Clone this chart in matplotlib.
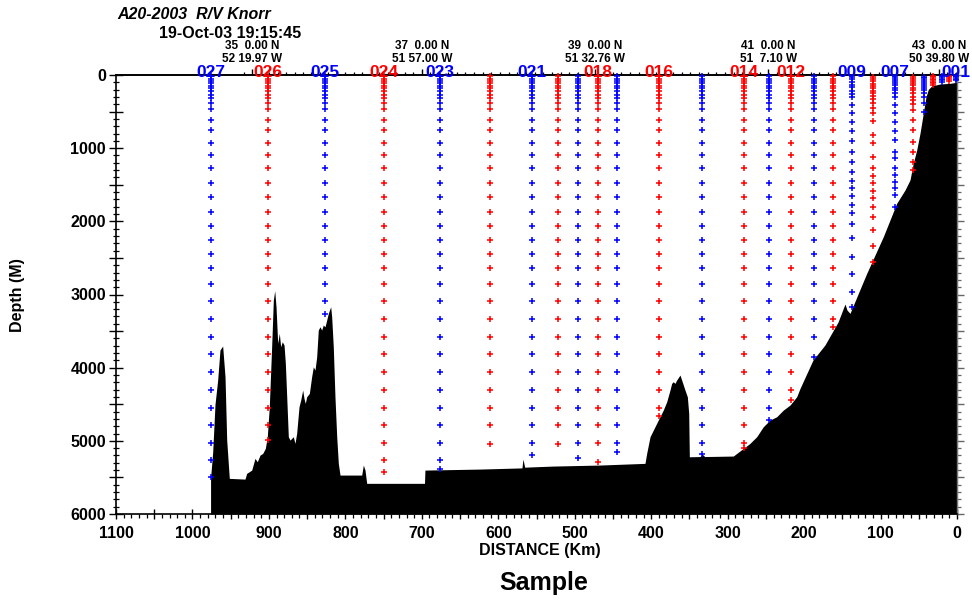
import numpy as np
import matplotlib
matplotlib.use("Agg")
import matplotlib.pyplot as plt
from matplotlib.ticker import FixedLocator, MultipleLocator, FuncFormatter
from matplotlib.transforms import offset_copy

plt.rcParams['font.family'] = ['Liberation Sans', 'DejaVu Sans']
plt.rcParams['font.weight'] = 'bold'

# ---- bottom profile along the section (distance km, depth m) ----
bottom_km = [976.3, 973.5, 970.5, 967.0, 964.0, 960.5, 957.4, 955.2, 951.8, 931.3,
             929.1, 922.5, 918.2, 915.2, 911.6, 908.1, 904.7, 902.1, 899.5, 896.4,
             894.2, 892.4, 890.7, 888.5, 886.4, 884.6, 882.5, 880.2, 878.5, 876.7,
             874.6, 872.4, 868.1, 865.9, 863.7, 860.6, 858.4, 855.8, 854.1, 852.4,
             850.6, 847.1, 844.1, 841.9, 839.7, 837.5, 835.4, 833.2, 831.0, 828.9,
             826.6, 824.4, 822.3, 819.2, 817.9, 815.8, 813.6, 811.3, 809.2, 807.0,
             778.6, 776.5, 774.3, 772.1, 696.5, 695.9, 623.9, 569.0, 567.7, 565.5,
             528.4, 467.0, 408.1, 405.9, 401.5, 397.2, 390.7, 384.2, 379.7, 375.4,
             373.2, 371.1, 368.9, 366.7, 362.3, 360.1, 355.8, 352.7, 350.9, 350.1,
             336.0, 333.5, 330.0, 292.6, 279.5, 270.8, 262.0, 253.4, 244.6, 235.8,
             227.2, 218.4, 209.7, 205.3, 188.4, 172.7, 155.6, 146.5, 143.9, 140.0,
             118.1, 96.4, 78.9, 68.0, 61.5, 57.2, 52.7, 48.4, 44.1, 40.5,
             37.5, 33.1, 22.2, 9.2, 0.4, 0.0]
bottom_depth = [5510, 5150, 4500, 4169, 3759, 3704, 4124, 4989, 5513, 5523,
                5445, 5400, 5240, 5286, 5195, 5172, 5104, 4944, 4534, 3714,
                3076, 2948, 3167, 3668, 3531, 3714, 3646, 3691, 3941, 4398,
                4944, 4990, 4944, 5035, 4898, 4534, 4443, 4306, 4420, 4488,
                4398, 4352, 4124, 3988, 4033, 3851, 3486, 3441, 3486, 3418,
                3441, 3349, 3258, 3167, 3304, 3714, 4398, 4944, 5308, 5468,
                5468, 5331, 5400, 5581, 5581, 5400, 5386, 5370, 5249, 5360,
                5345, 5331, 5308, 5172, 4944, 4853, 4716, 4580, 4466, 4306,
                4215, 4192, 4215, 4170, 4101, 4170, 4306, 4398, 4625, 5218,
                5215, 5180, 5215, 5208, 5104, 5035, 4944, 4808, 4716, 4671,
                4580, 4511, 4398, 4283, 3896, 3690, 3376, 3130, 3212, 3258,
                2711, 2210, 1754, 1572, 1435, 1207, 1025, 797, 524, 296,
                196, 150, 123, 114, 100, 100]

# ---- stations ----
station_ids = ['001', '002', '003', '004', '005', '006', '007', '008', '009',
               '010', '011', '012', '013', '014', '015', '016', '017', '018',
               '019', '020', '021', '022', '023', '024', '025', '026', '027']
station_km = [1, 10, 20, 31, 43, 58, 81, 110, 137, 162, 187, 217, 246, 279,
              334, 390, 445, 470, 496, 522, 556, 611, 676, 750, 827, 901, 976]
labelled_ids = ['027', '026', '025', '024', '023', '021', '018', '016',
                '014', '012', '009', '007', '001']

# usual bottle depths of a deep cast (m)
deep_cast = [10, 50, 80, 110, 145, 180, 225, 270, 320, 380, 470, 610, 750,
             925, 1090, 1270, 1470, 1665, 1870, 2060, 2255, 2445, 2640, 2850,
             3095, 3330, 3575, 3820, 4065, 4300, 4545, 4790, 5035, 5265, 5500]
# deepest bottle of each deep cast
deepest_bottle = {'010': 3450, '011': 3850, '012': 4443, '013': 4720,
                  '014': 5104, '015': 5181, '016': 4662, '017': 5150,
                  '018': 5290, '019': 5230, '020': 5050, '021': 5200,
                  '022': 5040, '023': 5380, '024': 5420, '025': 3270,
                  '026': 4990, '027': 5500}
# shelf and slope casts
shelf_casts = {
    '001': [10, 30, 50, 68],
    '002': [10, 30, 50, 78],
    '003': [10, 30, 50, 70, 90],
    '004': [10, 30, 50, 70, 90, 110, 135],
    '005': [23, 45, 70, 95, 120, 150, 180, 210, 250, 300, 387, 506],
    '006': [23, 50, 80, 110, 140, 175, 210, 250, 300, 340, 390, 478, 615,
            752, 911, 1048, 1185, 1299],
    '007': [23, 50, 80, 110, 140, 175, 210, 250, 300, 410, 515, 638, 761,
            888, 1048, 1130, 1275, 1367, 1458, 1549, 1640, 1800],
    '008': [23, 55, 87, 118, 150, 182, 214, 250, 287, 332, 387, 455, 524,
            624, 820, 925, 1116, 1267, 1381, 1481, 1581, 1677, 1800, 1945,
            2119, 2333, 2560],
    '009': [23, 59, 96, 132, 168, 214, 260, 305, 410, 515, 638, 761, 902,
            1048, 1185, 1322, 1445, 1549, 1654, 1777, 1891, 2037, 2232, 2484,
            2725, 2971, 3167],
}

# latitude marks along the track
lat_deg = [35, 37, 39, 41, 43]
lat_km = [922, 700, 473, 247, 24]
lat_line1 = ['35  0.00 N', '37  0.00 N', '39  0.00 N', '41  0.00 N', '43  0.00 N']
lat_line2 = ['52 19.97 W', '51 57.00 W', '51 32.76 W', '51  7.10 W', '50 39.80 W']

BLUE = '#0000ff'
RED = '#ff0000'

fig = plt.figure(figsize=(9.72, 6.01), dpi=100)
L, R, T, B = 116, 957, 75, 514
ax = fig.add_axes([L / 972, 1 - B / 601, (R - L) / 972, (B - T) / 601])
ax.set_xlim(1100, 0)
ax.set_ylim(6000, 0)

ax.fill_between(bottom_km, bottom_depth, 6000, color='black', lw=0, zorder=2)

for sid, km in zip(station_ids, station_km):
    if sid in shelf_casts:
        depths = shelf_casts[sid]
    else:
        dmax = deepest_bottle[sid]
        depths = [d for d in deep_cast if d < dmax - 60] + [dmax]
    col = BLUE if int(sid) % 2 else RED
    ax.plot([km] * len(depths), depths, '+', color=col, ms=4.2, mew=1.1,
            zorder=3, clip_on=False)

lab_tr = offset_copy(ax.transData, fig=fig, x=0, y=-2, units='dots')
for sid, km in zip(station_ids, station_km):
    if sid in labelled_ids:
        col = BLUE if int(sid) % 2 else RED
        ax.text(km, 0, sid, transform=lab_tr, ha='center', va='baseline',
                color=col, fontsize=12.5, fontweight='bold', zorder=5)

tr1 = offset_copy(ax.transData, fig=fig, x=0, y=26, units='dots')
tr2 = offset_copy(ax.transData, fig=fig, x=0, y=13, units='dots')
for km, s1, s2 in zip(lat_km, lat_line1, lat_line2):
    ax.text(km, 0, s1, transform=tr1, ha='center', va='baseline', fontsize=8.5,
            fontweight='bold')
    ax.text(km, 0, s2, transform=tr2, ha='center', va='baseline', fontsize=8.5,
            fontweight='bold')

# axes ticks
ax.xaxis.set_major_locator(MultipleLocator(50))
ax.xaxis.set_minor_locator(MultipleLocator(10))
ax.xaxis.set_major_formatter(FuncFormatter(
    lambda v, p: f'{int(round(v))}' if int(round(v)) % 100 == 0 else ''))
ax.yaxis.set_major_locator(MultipleLocator(500))
ax.yaxis.set_minor_locator(MultipleLocator(100))
ax.yaxis.set_major_formatter(FuncFormatter(
    lambda v, p: f'{int(round(v))}' if int(round(v)) % 1000 == 0 else ''))
ax.tick_params(axis='x', which='major', direction='inout', length=7.5,
               width=1.0, pad=5, labelsize=11.5, top=False)
ax.tick_params(axis='x', which='minor', direction='out', length=2.6,
               width=0.9, top=False)
ax.tick_params(axis='y', which='major', direction='inout', length=10.5,
               width=1.0, pad=2, labelsize=11.5, right=False)
ax.tick_params(axis='y', which='minor', direction='inout', length=5,
               width=0.9, right=False)
for lab in ax.get_xticklabels() + ax.get_yticklabels():
    lab.set_fontweight('bold')

for s in ('top', 'bottom', 'left'):
    ax.spines[s].set_linewidth(1.2)
ax.spines['right'].set_color('#777777')
ax.spines['right'].set_linewidth(1.0)

# latitude ticks along the top
slope_s = (lat_km[0] - lat_km[1]) / (lat_deg[1] - lat_deg[0])
slope_n = (lat_km[-2] - lat_km[-1]) / (lat_deg[-1] - lat_deg[-2])
ext_deg = [lat_deg[0] - 1] + lat_deg + [lat_deg[-1] + 1]
ext_km = [lat_km[0] + slope_s] + lat_km + [lat_km[-1] - slope_n]
minor_lat = np.round(np.arange(34.9, 43.25, 0.1), 1)
minor_km = np.interp(minor_lat, ext_deg, ext_km)
top = ax.secondary_xaxis('top')
top.xaxis.set_major_locator(FixedLocator(lat_km))
top.xaxis.set_minor_locator(FixedLocator(minor_km))
top.tick_params(which='major', direction='out', length=4.5, width=1.0,
                labeltop=False)
top.tick_params(which='minor', direction='out', length=2.2, width=0.9)
top.spines['top'].set_linewidth(1.2)

# right-hand depth ticks
rgt = ax.secondary_yaxis('right')
rgt.yaxis.set_major_locator(MultipleLocator(500))
rgt.yaxis.set_minor_locator(MultipleLocator(100))
rgt.tick_params(which='major', direction='out', length=5, width=1.0,
                color='#666666', labelright=False)
rgt.tick_params(which='minor', direction='out', length=3.2, width=0.9,
                color='#666666')
rgt.spines['right'].set_color('#777777')

fig.text(117 / 972, 1 - 19 / 601, 'A20-2003  R/V Knorr', ha='left',
         va='baseline', fontsize=11.5, fontweight='bold', style='italic')
fig.text(159 / 972, 1 - 38 / 601, '19-Oct-03 19:15:45', ha='left',
         va='baseline', fontsize=11.5, fontweight='bold')
fig.text(540 / 972, 1 - 551 / 601, 'DISTANCE (Km)', ha='center', va='center',
         fontsize=11.5, fontweight='bold')
fig.text(18 / 972, 1 - 295 / 601, 'Depth (M)', ha='center', va='center',
         rotation=90, fontsize=11.5, fontweight='bold')
fig.text(544 / 972, 1 - 583 / 601, 'Sample', ha='center', va='center',
         fontsize=18, fontweight='bold')

fig.savefig('out.png', dpi=100)
